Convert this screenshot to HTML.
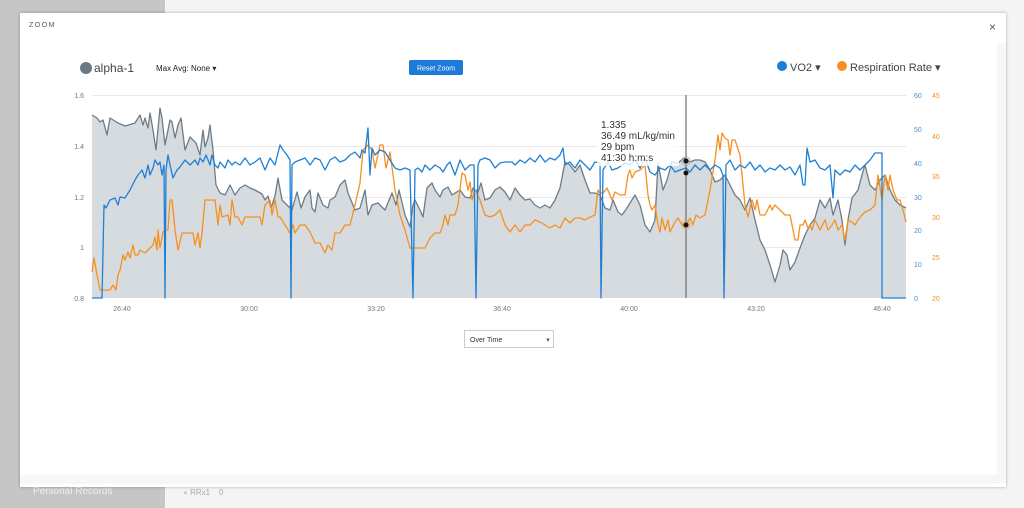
<!DOCTYPE html>
<html><head><meta charset="utf-8">
<style>
html,body{margin:0;padding:0;width:1024px;height:508px;overflow:hidden;background:#f4f4f4;font-family:"Liberation Sans",sans-serif;}
#left{position:absolute;left:0;top:0;width:165px;height:508px;background:#c6c6c6;}
#modal{position:absolute;left:20px;top:13px;width:986px;height:474px;background:#fff;box-shadow:0 0 3px rgba(0,0,0,.3);}
.t{position:absolute;white-space:nowrap;}
</style></head><body>
<div id="left"></div>
<div class="t" style="left:33px;top:486px;font-size:10px;color:#f0f0f0;">Personal Records</div>
<div class="t" style="left:183px;top:488px;font-size:8px;color:#aaa;"><span style="color:#c8c8f0">●</span> RRx1 &nbsp;&nbsp; 0</div>
<div id="modal">
<div class="t" style="left:9px;top:9px;font-size:7px;letter-spacing:1.5px;color:#555;">ZOOM</div>
<div class="t" style="left:969px;top:7px;font-size:12px;color:#555;">×</div>
<div style="position:absolute;left:977px;top:30px;width:9px;height:440px;background:#f7f7f7"></div>
<div style="position:absolute;left:0;top:462px;width:977px;height:9px;background:#f7f7f7"></div>
</div>
<svg width="1024" height="508" style="position:absolute;left:0;top:0" id="s" xmlns="http://www.w3.org/2000/svg" font-family="Liberation Sans, sans-serif">
<g stroke="#e8e8e8" stroke-width="1">
<line x1="92" y1="95.5" x2="906" y2="95.5"/><line x1="92" y1="146.5" x2="906" y2="146.5"/>
<line x1="92" y1="197.5" x2="906" y2="197.5"/><line x1="92" y1="247.5" x2="906" y2="247.5"/>
</g>
<g id="plot"></g>
<rect x="597" y="116" width="82" height="50" fill="#fff" opacity="0.8"/>
<line x1="686" y1="95" x2="686" y2="298" stroke="#555" stroke-width="1"/>
<circle cx="686" cy="161" r="5" fill="#aaa" opacity=".5"/><circle cx="686" cy="161" r="2.5" fill="#111"/>
<circle cx="686" cy="173" r="2.5" fill="#111"/>
<circle cx="686" cy="225" r="5" fill="#e8a060" opacity=".5"/><circle cx="686" cy="225" r="2.5" fill="#111"/>
<g font-size="10" fill="#333">
<text x="601" y="128">1.335</text><text x="601" y="139">36.49 mL/kg/min</text>
<text x="601" y="150">29 bpm</text><text x="601" y="161">41:30 h:m:s</text>
</g>
<g font-size="7" fill="#777" text-anchor="end">
<text x="84" y="98">1.6</text><text x="84" y="149">1.4</text><text x="84" y="200">1.2</text><text x="84" y="250">1</text><text x="84" y="301">0.8</text>
</g>
<g font-size="7" fill="#4a8fd0">
<text x="914" y="98">60</text><text x="914" y="132">50</text><text x="914" y="166">40</text><text x="914" y="200">30</text><text x="914" y="233">20</text><text x="914" y="267">10</text><text x="914" y="301">0</text>
</g>
<g font-size="7" fill="#f0902a">
<text x="932" y="98">45</text><text x="932" y="139">40</text><text x="932" y="179">35</text><text x="932" y="220">30</text><text x="932" y="260">25</text><text x="932" y="301">20</text>
</g>
<g font-size="7" fill="#777" text-anchor="middle">
<text x="122" y="311">26:40</text><text x="249" y="311">30:00</text><text x="376" y="311">33:20</text><text x="502" y="311">36:40</text><text x="629" y="311">40:00</text><text x="756" y="311">43:20</text><text x="882" y="311">46:40</text>
</g>
<circle cx="86" cy="68" r="6" fill="#6b7984"/>
<text x="94" y="72" font-size="12" fill="#444">alpha-1</text>
<text x="156" y="71" font-size="8" fill="#222">Max Avg: None ▾</text>
<rect x="409" y="60" width="54" height="15" rx="2" fill="#1d7ad8"/>
<text x="436" y="70.5" font-size="7" fill="#fff" text-anchor="middle">Reset Zoom</text>
<circle cx="782" cy="66" r="5" fill="#1a7fd6"/>
<text x="790" y="71" font-size="11" fill="#444">VO2 ▾</text>
<circle cx="842" cy="66" r="5" fill="#f7901e"/>
<text x="850" y="71" font-size="11" fill="#444">Respiration Rate ▾</text>
<rect x="464.5" y="330.5" width="89" height="17" fill="#fff" stroke="#ccc"/>
<text x="470" y="342" font-size="7" fill="#333">Over Time</text>
<text x="548" y="342" font-size="7" fill="#555" text-anchor="middle">▾</text>
</svg>
<script>
var A=[[92,115],[97,118],[100,122],[103,120],[107,135],[110,118],[118,123],[125,126],[135,123],[140,115],[143,125],[145,118],[148,128],[150,113],[153,130],[156,150],[160,108],[162,118],[165,145],[170,120],[172,122],[175,138],[178,125],[181,118],[185,150],[190,137],[196,143],[200,155],[203,130],[205,147],[208,138],[210,125],[213,150],[216,185],[220,193],[225,195],[230,185],[235,195],[240,188],[245,185],[250,188],[255,190],[262,194],[265,200],[268,196],[271,208],[275,196],[278,178],[282,200],[287,205],[292,210],[297,192],[301,208],[305,197],[310,190],[312,208],[315,212],[318,193],[323,205],[328,208],[330,200],[335,197],[340,185],[345,180],[348,193],[355,210],[360,208],[365,190],[368,215],[372,205],[378,203],[385,210],[392,193],[396,205],[399,190],[405,215],[410,227],[413,205],[415,200],[420,210],[423,217],[427,188],[432,183],[435,190],[440,197],[443,190],[448,187],[452,195],[460,190],[465,197],[470,198],[473,188],[478,192],[481,183],[485,200],[490,198],[495,190],[500,187],[505,192],[510,200],[515,188],[520,195],[525,200],[530,199],[535,205],[540,208],[545,205],[550,208],[555,200],[560,188],[565,162],[570,165],[575,172],[580,165],[585,180],[590,193],[595,193],[600,195],[605,208],[610,210],[613,200],[618,212],[622,215],[627,208],[630,203],[635,195],[640,205],[645,225],[650,232],[655,220],[658,163],[663,190],[667,180],[672,162],[678,163],[684,158],[690,162],[695,160],[700,160],[705,162],[710,170],[715,182],[720,180],[725,175],[730,185],[735,195],[740,200],[745,210],[750,198],[755,220],[760,240],[765,250],[770,265],[775,282],[780,265],[783,250],[787,255],[790,270],[795,262],[800,248],[805,235],[810,225],[815,218],[820,200],[825,208],[830,198],[833,215],[838,200],[842,220],[845,245],[848,220],[852,198],[858,190],[862,175],[865,165],[870,185],[875,190],[880,180],[885,175],[890,190],[895,200],[900,205],[906,208]];
var V=[[92,298],[102,298],[104,205],[106,208],[110,200],[115,198],[118,205],[120,197],[125,198],[130,190],[135,180],[138,175],[142,170],[145,178],[148,165],[150,175],[153,168],[155,160],[158,165],[160,162],[162,175],[164,165],[165,298],[166,170],[168,155],[170,165],[173,178],[177,170],[180,167],[185,160],[190,165],[195,160],[198,165],[200,158],[203,162],[206,155],[210,165],[212,155],[215,165],[218,168],[220,162],[225,168],[228,160],[232,165],[235,162],[240,165],[245,158],[250,165],[255,162],[260,158],[265,170],[270,158],[275,165],[280,145],[283,150],[287,155],[290,160],[291,298],[292,165],[295,162],[300,160],[305,158],[310,165],[315,158],[320,160],[325,170],[330,160],[335,157],[340,162],[345,160],[350,155],[355,152],[360,158],[362,150],[365,153],[368,128],[370,175],[372,148],[375,155],[380,150],[385,152],[390,160],[395,168],[400,170],[405,168],[410,170],[413,298],[415,170],[418,168],[422,172],[425,165],[430,170],[435,165],[440,168],[443,172],[447,165],[450,162],[455,175],[460,160],[465,170],[470,165],[474,165],[476,298],[478,165],[480,160],[485,158],[490,160],[495,168],[500,163],[505,162],[512,162],[515,165],[520,160],[525,163],[530,158],[535,162],[540,155],[545,162],[550,158],[555,160],[560,155],[563,148],[565,165],[570,162],[575,168],[580,160],[585,165],[590,170],[595,162],[600,163],[601,298],[603,170],[608,162],[612,170],[618,168],[625,163],[630,165],[635,160],[640,168],[645,158],[650,172],[655,175],[660,168],[665,170],[670,165],[675,172],[680,170],[686,168],[690,172],[695,165],[700,170],[705,165],[710,170],[715,165],[720,168],[723,175],[724,298],[726,165],[730,160],[735,170],[740,165],[745,168],[750,162],[755,170],[760,165],[765,172],[770,168],[775,170],[780,165],[785,170],[790,167],[795,175],[800,165],[803,185],[805,185],[807,148],[810,162],[815,160],[820,168],[825,170],[830,165],[833,198],[835,170],[840,175],[845,170],[850,172],[855,165],[860,170],[865,165],[870,160],[875,153],[882,153],[882,298],[906,298]];
var R=[[92,272],[94,258],[97,275],[100,290],[110,290],[113,285],[116,290],[118,275],[120,270],[123,255],[125,260],[128,252],[130,258],[133,245],[135,255],[138,255],[140,250],[145,253],[148,250],[150,248],[153,245],[155,237],[157,250],[158,230],[160,248],[163,232],[165,230],[168,230],[170,200],[172,200],[175,230],[178,250],[182,233],[193,233],[195,245],[198,233],[200,248],[202,233],[205,200],[215,200],[218,225],[220,205],[222,217],[228,215],[230,225],[232,200],[235,217],[238,217],[242,225],[245,217],[260,217],[262,225],[265,205],[270,200],[272,215],[275,200],[278,217],[280,217],[285,225],[290,233],[293,225],[295,233],[300,225],[305,225],[310,232],[315,243],[320,243],[325,253],[328,245],[332,250],[335,233],[340,233],[345,225],[350,225],[355,205],[360,183],[363,150],[368,145],[372,150],[375,168],[380,145],[383,145],[386,168],[390,152],[395,190],[400,215],[405,230],[410,248],[425,248],[430,238],[435,233],[440,233],[443,225],[445,215],[448,225],[450,215],[455,215],[458,205],[462,173],[465,175],[468,190],[470,182],[472,200],[475,190],[480,200],[485,215],[490,217],[495,215],[500,210],[505,225],[510,232],[515,225],[520,232],[525,225],[530,225],[535,220],[540,222],[545,225],[550,228],[555,225],[560,228],[565,218],[570,223],[575,218],[580,218],[585,220],[590,217],[595,215],[598,190],[600,193],[603,193],[607,188],[612,200],[615,192],[620,195],[625,195],[628,175],[630,170],[632,178],[635,172],[640,170],[645,165],[648,195],[650,205],[652,210],[655,205],[658,225],[660,232],[662,218],[665,230],[668,220],[670,232],[672,228],[675,222],[678,218],[682,225],[686,225],[690,218],[693,225],[696,215],[700,218],[705,215],[710,190],[712,178],[715,160],[718,135],[720,150],[722,133],[725,138],[728,140],[730,155],[732,140],[735,140],[740,155],[743,185],[745,205],[748,217],[752,200],[755,210],[757,200],[760,215],[765,215],[770,205],[772,210],[775,205],[780,210],[785,215],[790,215],[795,240],[798,240],[800,225],[803,225],[805,220],[808,228],[810,225],[812,230],[815,220],[820,230],[825,220],[828,230],[832,225],[835,220],[838,230],[842,225],[845,240],[848,220],[852,222],[855,225],[858,220],[862,215],[865,212],[870,210],[875,205],[878,175],[882,200],[885,175],[888,190],[890,175],[893,190],[897,200],[900,200],[903,210],[906,222]];
function pts(a){return a.map(function(p){return p[0]+','+p[1]}).join(' ');}
var ns="http://www.w3.org/2000/svg",g=document.getElementById('plot');
function add(tag,at){var e=document.createElementNS(ns,tag);for(var k in at)e.setAttribute(k,at[k]);g.appendChild(e);}
add('polygon',{points:'92,298 '+pts(A)+' 906,298',fill:'#d6dbdf'});
add('polyline',{points:pts(A),fill:'none',stroke:'#6e7c87','stroke-width':1.3,'stroke-linejoin':'round'});
add('polyline',{points:pts(R),fill:'none',stroke:'#f7901e','stroke-width':1.3,'stroke-linejoin':'round'});
add('polyline',{points:pts(V),fill:'none',stroke:'#1f80d3','stroke-width':1.3,'stroke-linejoin':'round'});
</script>
</body></html>
